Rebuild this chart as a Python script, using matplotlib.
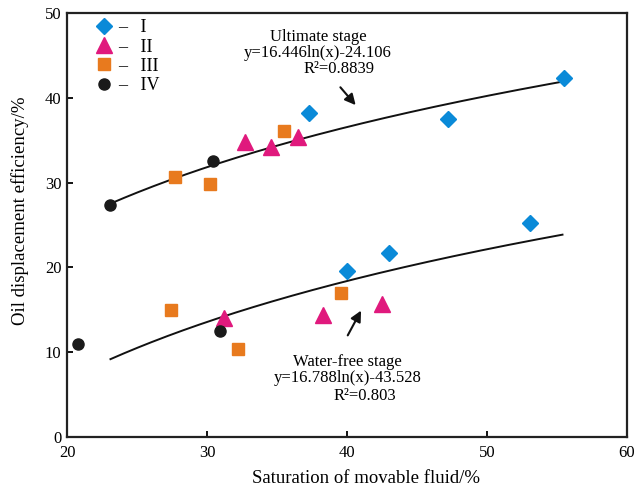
import numpy as np
import matplotlib
matplotlib.use("Agg")
import matplotlib.pyplot as plt

plt.rcParams['font.family'] = ['Liberation Serif', 'DejaVu Serif']

# ######## # Data
type1_x = [55.5, 47.2, 37.3, 53.1, 43.0, 40.0]
type1_y = [42.3, 37.5, 38.2, 25.2, 21.7, 19.6]

type2_x = [32.7, 34.6, 36.5, 31.2, 38.3, 42.5]
type2_y = [34.8, 34.2, 35.4, 14.0, 14.4, 15.7]

type3_x = [27.7, 30.2, 35.5, 27.4, 32.2, 39.6]
type3_y = [30.7, 29.8, 36.1, 15.0, 10.4, 17.0]

type4_x = [23.1, 30.4, 20.8, 30.9]
type4_y = [27.4, 32.6, 11.0, 12.5]

# fitted curves y = a*ln(x) + b, as printed in the chart
ultimate_coef = (16.446, -24.106)
ultimate_xrange = (23.1, 55.4)
waterfree_coef = (16.788, -43.528)
waterfree_xrange = (23.1, 55.4)

x_ticks = [20, 30, 40, 50, 60]
y_ticks = [0, 10, 20, 30, 40, 50]

fig = plt.figure(figsize=(6.39, 4.86), dpi=100)
ax = fig.add_axes([0.105, 0.1008, 0.876, 0.8722])

# ######## # Fit lines
for (a, b), (x0, x1) in [(ultimate_coef, ultimate_xrange), (waterfree_coef, waterfree_xrange)]:
    xs = np.linspace(x0, x1, 200)
    ax.plot(xs, a * np.log(xs) + b, color="#111111", lw=1.4, zorder=2)

# ######## # Points
ax.plot(type1_x, type1_y, ls="none", marker="D", ms=8.5, color="#0a8ad8", label="\u2013   I", zorder=3)
ax.plot(type2_x, type2_y, ls="none", marker="^", ms=11, color="#e0197d", label="\u2013   II", zorder=3)
ax.plot(type3_x, type3_y, ls="none", marker="s", ms=8.5, color="#e87a1e", label="\u2013   III", zorder=3)
ax.plot(type4_x, type4_y, ls="none", marker="o", ms=8, color="#1a1a1a", label="\u2013   IV", zorder=3)

ax.legend(
    loc="upper left", bbox_to_anchor=(0.051, 0.985), frameon=False,
    fontsize=13, handlelength=0.95, handletextpad=0.3, labelspacing=0.12,
    borderpad=0, borderaxespad=0, numpoints=1
)

# ######## # Annotations
fs = 12
ax.text(37.96, 47.2, "Ultimate stage", ha="center", va="center", fontsize=fs)
ax.text(37.9, 45.3, "y=16.446ln(x)-24.106", ha="center", va="center", fontsize=fs)
ax.text(39.4, 43.4, "R\u00b2=0.8839", ha="center", va="center", fontsize=fs)
ax.annotate("", xy=(40.75, 38.9), xytext=(39.4, 41.5),
            arrowprops=dict(arrowstyle="-|>", color="#111111", lw=1.5, mutation_scale=16))

ax.text(40.04, 8.84, "Water-free stage", ha="center", va="center", fontsize=fs)
ax.text(40.04, 6.96, "y=16.788ln(x)-43.528", ha="center", va="center", fontsize=fs)
ax.text(41.3, 4.83, "R\u00b2=0.803", ha="center", va="center", fontsize=fs)
ax.annotate("", xy=(41.1, 15.2), xytext=(39.96, 11.7),
            arrowprops=dict(arrowstyle="-|>", color="#111111", lw=1.5, mutation_scale=16))

# ######## # Axes
ax.set_xlim(20, 60)
ax.set_ylim(0, 50)
ax.set_xticks(x_ticks)
ax.set_yticks(y_ticks)
ax.tick_params(direction="in", length=4, width=1.3, labelsize=12, top=False, right=False)
ax.tick_params(axis="x", pad=6)
ax.tick_params(axis="y", pad=4)
for sp in ax.spines.values():
    sp.set_linewidth(1.6)
    sp.set_color("#222222")

ax.set_xlabel("Saturation of movable fluid/%", fontsize=13.5)
ax.xaxis.set_label_coords(0.534, -0.098)
ax.xaxis.label.set_va("center")
ax.set_ylabel("Oil displacement efficiency/%", fontsize=13.5)
ax.yaxis.set_label_coords(-0.084, 0.533)
ax.yaxis.label.set_va("center")

fig.savefig("out.png", dpi=100)
plt.close(fig)
